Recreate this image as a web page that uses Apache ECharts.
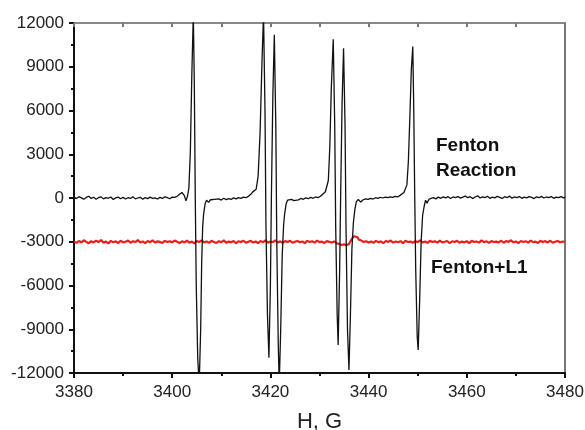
<!DOCTYPE html>
<html><head><meta charset="utf-8">
<script src="https://cdn.jsdelivr.net/npm/echarts@6/dist/echarts.min.js"></script>
<style>html,body{margin:0;padding:0;background:#fff}#c{width:585px;height:430px}</style>
</head><body><div id="c"></div>
<script>
var xTicks = [3380, 3400, 3420, 3440, 3460, 3480];
var yTicks = [-12000, -9000, -6000, -3000, 0, 3000, 6000, 9000, 12000];
var xName = 'H, G';
var labelFenton = 'Fenton\nReaction';
var labelL1 = 'Fenton+L1';

var fentonData = [
[3380,60],[3380.5,-40],[3381,90],[3381.5,10],[3382,-80],[3382.5,40],[3383,120],[3383.5,-30],[3384,50],[3384.5,-90],
[3385,20],[3385.5,80],[3386,-60],[3386.5,30],[3387,-20],[3387.5,70],[3388,-100],[3388.5,10],[3389,60],[3389.5,-50],
[3390,40],[3390.5,-70],[3391,20],[3391.5,-30],[3392,90],[3392.5,-60],[3393,0],[3393.5,50],[3394,-80],[3394.5,30],
[3395,-40],[3395.5,60],[3396,-20],[3396.5,10],[3397,-70],[3397.5,40],[3398,-30],[3398.5,80],[3399,20],[3399.5,-50],
[3400,60],[3400.5,40],[3401,120],[3401.5,250],[3402,380],[3402.5,150],[3402.8,-200],[3403.1,100],[3403.4,700],[3403.7,3200],
[3404.0,8500],[3404.3,12600],[3404.5,8000],[3404.7,0],[3404.9,-6000],[3405.2,-11000],[3405.5,-12800],[3405.8,-9000],[3406.0,-4500],[3406.2,-2000],
[3406.4,-1100],[3406.7,-400],[3407.0,-150],[3407.4,-300],[3407.8,-120],[3408.2,-200],[3408.6,-90],[3409,-180],[3409.5,-60],[3410,-140],
[3410.5,-20],[3411,-110],[3411.5,-40],[3412,-100],[3412.5,10],[3413,-60],[3413.5,30],[3414,-20],[3414.5,60],[3415,20],
[3415.5,110],[3416,250],[3416.4,420],[3416.8,300],[3417.1,600],[3417.5,1500],[3417.9,4500],[3418.3,9500],[3418.6,12600],[3418.9,6000],
[3419.1,-2000],[3419.4,-8000],[3419.7,-10950],[3420.0,-6000],[3420.2,0],[3420.5,7000],[3420.8,11200],[3421.1,5000],[3421.3,-3000],[3421.6,-10000],
[3421.8,-12800],[3422.1,-9000],[3422.4,-4000],[3422.7,-1800],[3422.9,-1100],[3423.2,-400],[3423.5,-150],[3423.9,-250],[3424.3,-100],[3424.8,-180],
[3425.2,-60],[3425.7,-130],[3426.2,-30],[3426.7,-90],[3427.2,10],[3427.7,-50],[3428.2,40],[3428.7,-20],[3429.2,70],[3429.7,30],
[3430.2,120],[3430.7,280],[3431.2,430],[3431.5,350],[3431.8,1200],[3432.1,3500],[3432.4,7500],[3432.8,10880],[3433.1,5000],[3433.3,-2000],
[3433.6,-8000],[3433.8,-10080],[3434.1,-5000],[3434.3,0],[3434.6,6500],[3434.9,10260],[3435.2,5000],[3435.4,-2000],[3435.7,-9000],[3436.0,-11790],
[3436.3,-8000],[3436.6,-3500],[3436.9,-1700],[3437.2,-800],[3437.5,-250],[3437.9,-100],[3438.4,-280],[3438.9,-120],[3439.4,-60],[3439.9,-100],
[3440.4,-20],[3440.9,-70],[3441.4,20],[3441.9,-30],[3442.4,50],[3442.9,0],[3443.4,60],[3443.9,20],[3444.4,80],[3444.9,40],
[3445.4,110],[3445.9,70],[3446.4,180],[3446.8,300],[3447.2,380],[3447.5,250],[3447.8,900],[3448.1,2500],[3448.4,5500],[3448.7,8800],
[3449.0,10380],[3449.2,6000],[3449.4,0],[3449.6,-5000],[3449.9,-9500],[3450.1,-10420],[3450.4,-7000],[3450.7,-3000],[3451.0,-1200],[3451.3,-600],
[3451.6,-150],[3451.9,-350],[3452.3,-80],[3452.7,-150],[3453.2,20],[3453.7,-60],[3454.2,60],[3454.7,-20],[3455.2,80],[3455.7,10],
[3456.2,90],[3456.7,-30],[3457.2,70],[3457.7,20],[3458.2,100],[3458.7,-10],[3459.2,60],[3459.7,130],[3460.2,20],[3460.7,90],
[3461.2,-40],[3461.7,70],[3462.2,150],[3462.7,0],[3463.2,80],[3463.7,30],[3464.2,120],[3464.7,-20],[3465.2,60],[3465.7,10],
[3466.2,110],[3466.7,40],[3467.2,-30],[3467.7,90],[3468.2,20],[3468.7,130],[3469.2,-10],[3469.7,70],[3470.2,30],[3470.7,100],
[3471.2,-20],[3471.7,60],[3472.2,10],[3472.7,90],[3473.2,40],[3473.7,-40],[3474.2,80],[3474.7,20],[3475.2,110],[3475.7,0],
[3476.2,70],[3476.7,30],[3477.2,100],[3477.7,-20],[3478.2,60],[3478.7,20],[3479.2,90],[3479.7,10],[3480,50]
];

var fentonL1Data = [
[3380,-2980],[3380.5,-3080],[3381,-2950],[3381.5,-3040],[3382,-2900],[3382.5,-3010],[3383,-3100],[3383.5,-2960],[3384,-3050],[3384.5,-2920],
[3385,-3020],[3385.5,-2880],[3386,-3060],[3386.5,-2990],[3387,-3110],[3387.5,-2940],[3388,-3030],[3388.5,-2970],[3389,-3090],[3389.5,-2930],
[3390,-3040],[3390.5,-3000],[3391,-2910],[3391.5,-3070],[3392,-2960],[3392.5,-3020],[3393,-2890],[3393.5,-3050],[3394,-2980],[3394.5,-3100],
[3395,-2950],[3395.5,-3030],[3396,-2900],[3396.5,-3060],[3397,-2970],[3397.5,-3010],[3398,-3080],[3398.5,-2940],[3399,-3020],[3399.5,-2960],
[3400,-3050],[3400.5,-2920],[3401,-3000],[3401.5,-3090],[3402,-2970],[3402.5,-3040],[3403,-2930],[3403.5,-3060],[3404,-2990],[3404.5,-3110],
[3405,-2950],[3405.5,-3020],[3406,-2900],[3406.5,-3050],[3407,-2980],[3407.5,-3070],[3408,-2940],[3408.5,-3010],[3409,-3080],[3409.5,-2960],
[3410,-3030],[3410.5,-2910],[3411,-3060],[3411.5,-2990],[3412,-3040],[3412.5,-2950],[3413,-3100],[3413.5,-2970],[3414,-3020],[3414.5,-2930],
[3415,-3070],[3415.5,-3000],[3416,-2940],[3416.5,-3050],[3417,-2980],[3417.5,-3090],[3418,-2950],[3418.5,-3030],[3419,-2910],[3419.5,-3060],
[3420,-2990],[3420.5,-3020],[3421,-2900],[3421.5,-3050],[3422,-2970],[3422.5,-3080],[3423,-2960],[3423.5,-3010],[3424,-2930],[3424.5,-3070],
[3425,-3000],[3425.5,-2950],[3426,-3040],[3426.5,-2980],[3427,-3090],[3427.5,-2940],[3428,-3020],[3428.5,-2970],[3429,-3060],[3429.5,-2920],
[3430,-3030],[3430.5,-2990],[3431,-3080],[3431.5,-2960],[3432,-3010],[3432.5,-3050],[3433,-2980],[3433.5,-3100],[3434,-3150],[3434.5,-3220],
[3435,-3180],[3435.5,-3240],[3436,-3150],[3436.5,-2850],[3437,-2620],[3437.3,-2550],[3437.7,-2680],[3438,-2850],[3438.5,-2920],[3439,-3020],
[3439.5,-2960],[3440,-3050],[3440.5,-2990],[3441,-3070],[3441.5,-2940],[3442,-3030],[3442.5,-2970],[3443,-3090],[3443.5,-2950],[3444,-3010],
[3444.5,-2920],[3445,-3060],[3445.5,-2980],[3446,-3040],[3446.5,-2960],[3447,-3100],[3447.5,-2930],[3448,-3020],[3448.5,-2990],[3449,-3070],
[3449.5,-2950],[3450,-3030],[3450.5,-2910],[3451,-3050],[3451.5,-2980],[3452,-3080],[3452.5,-2940],[3453,-3010],[3453.5,-2970],[3454,-3060],
[3454.5,-2920],[3455,-3040],[3455.5,-3000],[3456,-2950],[3456.5,-3090],[3457,-2970],[3457.5,-3020],[3458,-2930],[3458.5,-3070],[3459,-2990],
[3459.5,-3040],[3460,-2960],[3460.5,-3100],[3461,-2940],[3461.5,-3010],[3462,-2980],[3462.5,-3060],[3463,-2910],[3463.5,-3030],[3464,-2970],
[3464.5,-3080],[3465,-2950],[3465.5,-3020],[3466,-2990],[3466.5,-3050],[3467,-2930],[3467.5,-3070],[3468,-2960],[3468.5,-3010],[3469,-2900],
[3469.5,-3040],[3470,-2980],[3470.5,-3090],[3471,-2950],[3471.5,-3020],[3472,-2970],[3472.5,-3060],[3473,-2920],[3473.5,-3030],[3474,-2990],
[3474.5,-3080],[3475,-2940],[3475.5,-3010],[3476,-2960],[3476.5,-3050],[3477,-2930],[3477.5,-3070],[3478,-3000],[3478.5,-2950],[3479,-3040],
[3479.5,-2980],[3480,-3020]
];

var chart = echarts.init(document.getElementById('c'), null, {renderer: 'canvas'});
var FONT = '"Liberation Sans", Arial, sans-serif';
var xMin = xTicks[0], xMax = xTicks[xTicks.length - 1];
var yMin = yTicks[0], yMax = yTicks[yTicks.length - 1];
var plain = function (v) { return String(v); };
chart.setOption({
  animation: false,
  backgroundColor: '#fff',
  grid: {left: 74, right: 20, top: 23, bottom: 57, containLabel: false, outerBoundsMode: 'none'},
  xAxis: [{
    type: 'value', position: 'bottom', min: xMin, max: xMax, interval: 20,
    name: xName, nameLocation: 'middle', nameGap: 38,
    nameTextStyle: {fontFamily: FONT, fontSize: 22, color: '#222'},
    axisLine: {show: true, onZero: false, lineStyle: {color: '#111', width: 2}},
    axisTick: {show: true, inside: false, length: 5, lineStyle: {color: '#111', width: 2}},
    minorTick: {show: true, splitNumber: 2, length: 3, lineStyle: {color: '#111', width: 2}},
    axisLabel: {fontFamily: FONT, fontSize: 17, color: '#222', margin: 11, formatter: plain},
    splitLine: {show: false}
  }, {
    type: 'value', position: 'top', min: xMin, max: xMax, interval: 10,
    axisLine: {show: true, onZero: false, lineStyle: {color: '#888', width: 2}},
    axisTick: {show: true, inside: true, length: 4, lineStyle: {color: '#777', width: 2}},
    axisLabel: {show: false}, splitLine: {show: false}
  }],
  yAxis: [{
    type: 'value', position: 'left', min: yMin, max: yMax, interval: 3000,
    axisLine: {show: true, onZero: false, lineStyle: {color: '#111', width: 2}},
    axisTick: {show: true, inside: false, length: 5, lineStyle: {color: '#111', width: 2}},
    minorTick: {show: true, splitNumber: 2, length: 3, lineStyle: {color: '#111', width: 2}},
    axisLabel: {fontFamily: FONT, fontSize: 17, color: '#222', margin: 10, formatter: plain},
    splitLine: {show: false}
  }, {
    type: 'value', position: 'right', min: yMin, max: yMax, interval: 3000,
    axisLine: {show: true, onZero: false, lineStyle: {color: '#777', width: 2}},
    axisTick: {show: false}, axisLabel: {show: false}, splitLine: {show: false}
  }],
  series: [{
    name: 'Fenton+L1', type: 'line', data: fentonL1Data, xAxisIndex: 0, yAxisIndex: 0,
    showSymbol: false, symbol: 'none', clip: true,
    lineStyle: {color: '#ee1c1c', width: 2.2}
  }, {
    name: 'Fenton Reaction', type: 'line', data: fentonData, xAxisIndex: 0, yAxisIndex: 0,
    showSymbol: false, symbol: 'none', clip: true,
    lineStyle: {color: '#111', width: 1.3}
  }],
  graphic: [{
    type: 'text', left: 436, top: 133,
    style: {text: labelFenton, font: 'bold 19px ' + FONT, fill: '#111', lineHeight: 25}
  }, {
    type: 'text', left: 431, top: 258,
    style: {text: labelL1, font: 'bold 19px ' + FONT, fill: '#111'}
  }]
});
</script></body></html>
